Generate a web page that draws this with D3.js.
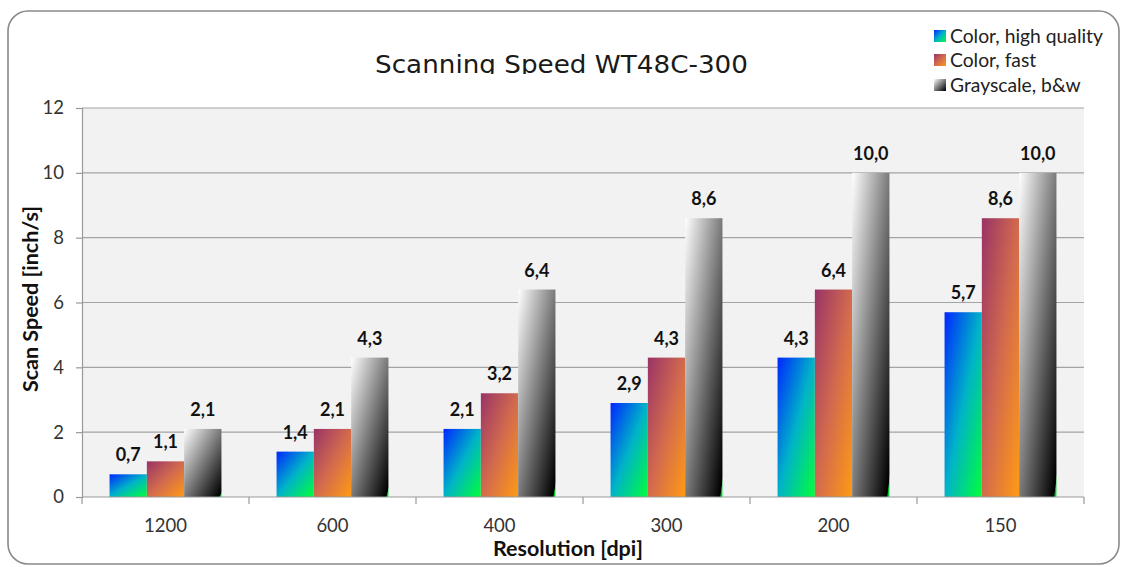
<!DOCTYPE html>
<html>
<head>
<meta charset="utf-8">
<script src="https://cdn.jsdelivr.net/npm/d3@7"></script>
<style>
  html, body { margin: 0; padding: 0; background: #fff; }
  svg { display: block; }
</style>
</head>
<body>
<svg id="chart" width="1122" height="567"></svg>
<script>
const categories = ["1200", "600", "400", "300", "200", "150"];
const seriesNames = ["Color, high quality", "Color, fast", "Grayscale, b&w"];
const colorHigh = [0.7, 1.4, 2.1, 2.9, 4.3, 5.7];
const colorFast = [1.1, 2.1, 3.2, 4.3, 6.4, 8.6];
const grayscale = [2.1, 4.3, 6.4, 8.6, 10.0, 10.0];
const yTicks = [0, 2, 4, 6, 8, 10, 12];
const seriesValues = [colorHigh, colorFast, grayscale];

const svg = d3.select("#chart");
const W = 1122, H = 567;
const plot = { left: 82, right: 1084, top: 108, bottom: 497 };
const FONT = "Lato, 'Noto Sans', sans-serif";

// gradients
const defs = svg.append("defs");
const grads = [
  [["0%", "#0026ff"], ["50%", "#00b3c8"], ["100%", "#00ff3a"]],
  [["0%", "#993366"], ["50%", "#d26a4e"], ["100%", "#ff9a14"]],
  [["0%", "#ffffff"], ["96.5%", "#000000"], ["97.5%", "#00b020"], ["100%", "#00ff33"]]
];
grads.forEach((stops, i) => {
  const g = defs.append("linearGradient").attr("id", "g" + i)
    .attr("x1", 0).attr("y1", 0).attr("x2", 1).attr("y2", 1);
  stops.forEach(s => g.append("stop").attr("offset", s[0]).attr("stop-color", s[1]));
});
defs.append("clipPath").attr("id", "titleClip")
  .append("rect").attr("x", 0).attr("y", 0).attr("width", W).attr("height", 74);

// outer frame
svg.append("rect").attr("x", 8).attr("y", 11).attr("width", 1111).attr("height", 553)
  .attr("rx", 20).attr("fill", "#fff").attr("stroke", "#8a8a8a").attr("stroke-width", 1.6);

// scales
const y = d3.scaleLinear().domain([0, 12]).range([plot.bottom, plot.top]);
const xb = d3.scaleBand().domain(categories).range([plot.left, plot.right]);
const x0 = d3.scaleBand().domain(categories).range([plot.left, plot.right])
  .paddingInner(0.33).paddingOuter(0.165);
const x1 = d3.scaleBand().domain(d3.range(seriesNames.length)).range([0, x0.bandwidth()]);

// plot background
svg.append("rect").attr("x", plot.left).attr("y", plot.top)
  .attr("width", plot.right - plot.left).attr("height", plot.bottom - plot.top)
  .attr("fill", "#f2f2f2");

// gridlines
svg.append("g").selectAll("line").data(yTicks.filter(d => d > 0)).join("line")
  .attr("x1", plot.left).attr("x2", plot.right)
  .attr("y1", d => y(d)).attr("y2", d => y(d))
  .attr("stroke", "#a3a3a3").attr("stroke-width", 1.2);

// y axis
const yAxis = svg.append("g").attr("transform", `translate(${plot.left},0)`)
  .call(d3.axisLeft(y).tickValues(yTicks).tickSize(6).tickPadding(12).tickFormat(d3.format("d")));
yAxis.select(".domain").attr("stroke", "#999").attr("stroke-width", 1.2);
yAxis.selectAll(".tick line").attr("stroke", "#999").attr("stroke-width", 1.2);
yAxis.selectAll(".tick text").attr("font-family", FONT).attr("font-size", 18.5).attr("fill", "#333");

// bars
const fmt = v => d3.format(".1f")(v).replace(".", ",");
categories.forEach((c, ci) => {
  seriesValues.forEach((vals, si) => {
    const v = vals[ci];
    const bx = x0(c) + x1(si);
    svg.append("rect")
      .attr("x", bx).attr("y", y(v))
      .attr("width", x1.bandwidth()).attr("height", y(0) - y(v))
      .attr("fill", `url(#g${si})`);
    svg.append("text")
      .attr("x", bx + x1.bandwidth() / 2).attr("y", y(v) - 13)
      .attr("text-anchor", "middle")
      .attr("font-family", FONT).attr("font-weight", "bold").attr("font-size", 18)
      .attr("fill", "#111").text(fmt(v));
  });
});

// x axis
const xg = svg.append("g").attr("transform", `translate(0,${plot.bottom})`);
xg.append("line").attr("x1", plot.left).attr("x2", plot.right).attr("y1", 0).attr("y2", 0)
  .attr("stroke", "#999").attr("stroke-width", 1.2);
const boundaries = categories.map(c => xb(c)).concat([plot.right]);
xg.selectAll("line.tk").data(boundaries).join("line").attr("class", "tk")
  .attr("x1", d => d).attr("x2", d => d).attr("y1", 0).attr("y2", 7)
  .attr("stroke", "#999").attr("stroke-width", 1.2);
xg.selectAll("text").data(categories).join("text")
  .attr("x", d => xb(d) + xb.bandwidth() / 2).attr("y", 35)
  .attr("text-anchor", "middle").attr("font-family", FONT).attr("font-size", 18.5)
  .attr("fill", "#333").text(d => d);

// axis titles
svg.append("text").attr("x", 568).attr("y", 556).attr("text-anchor", "middle")
  .attr("font-family", FONT).attr("font-weight", "bold").attr("font-size", 21.5)
  .attr("fill", "#111").text("Resolution [dpi]");
svg.append("text").attr("transform", "translate(38,299) rotate(-90)")
  .attr("text-anchor", "middle")
  .attr("font-family", FONT).attr("font-weight", "bold").attr("font-size", 21.5)
  .attr("fill", "#111").text("Scan Speed [inch/s]");

// title (clipped at bottom as in reference)
svg.append("text").attr("x", 375).attr("y", 73)
  .attr("clip-path", "url(#titleClip)")
  .attr("font-family", "'DejaVu Sans', sans-serif").attr("font-size", 25)
  .attr("textLength", 373).attr("lengthAdjust", "spacingAndGlyphs")
  .attr("fill", "#1a1a1a").text("Scanning Speed WT48C-300");

// legend
const lg = svg.append("g");
const legY = [36, 60, 85];
seriesNames.forEach((n, i) => {
  lg.append("rect").attr("x", 934).attr("y", legY[i] - 6).attr("width", 12).attr("height", 12)
    .attr("fill", `url(#g${i})`);
  lg.append("text").attr("x", 950).attr("y", legY[i] + 6.5)
    .attr("font-family", FONT).attr("font-size", 19.3).attr("fill", "#222").text(n);
});
</script>
</body>
</html>
